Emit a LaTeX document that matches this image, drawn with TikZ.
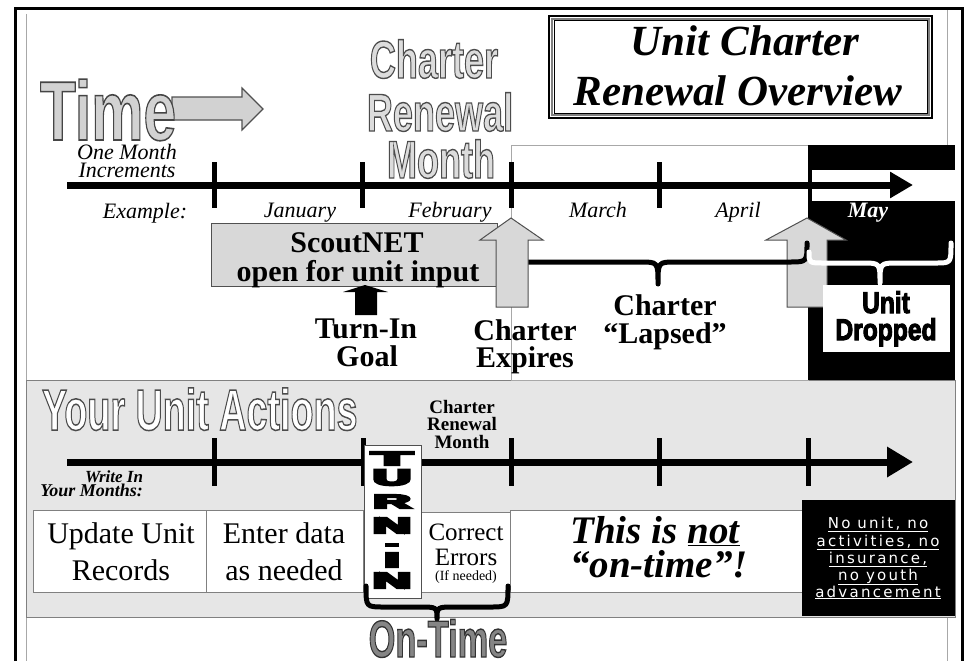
\documentclass[tikz,border=0pt]{standalone}
\usepackage{fontspec}
\usepackage{graphicx}
\setmainfont{Liberation Serif}
\newfontfamily\hv{Liberation Sans}
\newfontfamily\dvs{DejaVu Sans}[LetterSpace=15]
\usetikzlibrary{arrows.meta}
\definecolor{panel}{HTML}{E6E6E6}
\definecolor{lgray}{HTML}{D8D8D8}
\definecolor{dgray}{HTML}{505050}
\definecolor{frameg}{HTML}{A8A8A8}
\definecolor{timefill}{HTML}{D2D2D2}
\definecolor{crmfill}{HTML}{DCDCDC}
\definecolor{otfill}{HTML}{858585}
% outlined text: fill colour, stroke rgb, stroke width, text
\newcommand\olt[4]{{\color{#1}\special{pdf:literal direct 2 Tr #3 w #2 RG}#4\special{pdf:literal direct 0 Tr}}}
\newcommand\fsz[1]{\fontsize{#1}{#1}\selectfont}
\newcommand\heavy[1]{\olt{black}{0 0 0}{1.1}{#1}}
\tikzset{
  every node/.style={inner sep=0pt, outer sep=0pt},
  serifb/.style={font=\fsz{30}\bfseries, anchor=base},
  serifr/.style={font=\fsz{30}, anchor=base},
  monthlbl/.style={font=\fsz{22}\itshape, anchor=base},
  bigout/.style={anchor=base},
  blockarrow/.style={fill=lgray, draw=dgray, line width=1},
  tline/.style={line width=7},
  tick/.style={line width=5},
  bracestyle/.style={line width=5, line cap=round, line join=round},
  whitebox/.style={fill=white, draw=gray, line width=1},
  notxt/.style={font=\dvs\fsz{15}, text=white, anchor=base},
  turnletter/.style={anchor=center},
}
\begin{document}
\begin{tikzpicture}[x=1pt,y=-1pt]
\useasboundingbox (0,0) rectangle (968,661);
\fill[white] (0,0) rectangle (968,661);
% frame
\draw[frameg, line width=0.8] (26,14) -- (26,661);
\draw[frameg, line width=0.8] (947,10) -- (947,661);
\draw[line width=3] (15.5,661) -- (15.5,8.5) -- (962,8.5) -- (962,661);

% ---------- bottom panel ----------
\filldraw[fill=panel, draw=gray, line width=1] (26,380) rectangle (955,617);

% ---------- top section ----------
\draw[frameg, line width=0.8] (511,145) rectangle (808,380);
\fill[black] (808,145) rectangle (955,380);
\fill[white] (812,170) rectangle (955,201);

% title box
\draw[line width=2.5] (549,16) rectangle (932,118);
\draw[gray, line width=1.5] (551.8,18.8) rectangle (929.2,115.2);
\draw[line width=1] (554,21) rectangle (927,113);
\node[font=\fsz{43}\bfseries\itshape, anchor=base] (title1) at (745,56) {Unit Charter};
\node[font=\fsz{43}\bfseries\itshape, anchor=base] (title2) at (738,105) {Renewal Overview};

% Time arrow + text
\filldraw[fill=timefill, draw=dgray, line width=1.2] (172,97) -- (242,97) -- (242,88) -- (263,109) -- (242,130) -- (242,120) -- (172,120) -- cycle;
\node[anchor=base west] (time) at (40,140) {\scalebox{0.7}[1]{\hv\bfseries\fsz{84}\olt{timefill}{0.27 0.27 0.27}{1.6}{Time}}};

% Charter Renewal Month (big)
\node[bigout] (crm1) at (434,78) {\scalebox{0.68}[1]{\hv\bfseries\fsz{53}\olt{crmfill}{0.3 0.3 0.3}{1.4}{Charter}}};
\node[bigout] (crm2) at (440,131) {\scalebox{0.68}[1]{\hv\bfseries\fsz{53}\olt{crmfill}{0.3 0.3 0.3}{1.4}{Renewal}}};
\node[bigout] (crm3) at (441,178) {\scalebox{0.68}[1]{\hv\bfseries\fsz{53}\olt{crmfill}{0.3 0.3 0.3}{1.4}{Month}}};

\node[font=\fsz{22}\itshape, anchor=base] (omi1) at (127,159) {One Month};
\node[font=\fsz{22}\itshape, anchor=base] (omi2) at (127,177) {Increments};

% top timeline
\coordinate (ta) at (67,185);
\coordinate (tb) at (913,185);
\foreach \x in {214,362,511,659} \draw[tick] (\x,162) -- (\x,208);
\draw[tline, -{Triangle[length=23pt,width=25pt]}] (ta) -- (tb);

\node[monthlbl] (mex) at (145,218) {Example:};
\node[monthlbl] (mjan) at (300,217) {January};
\node[monthlbl] (mfeb) at (450,217) {February};
\node[monthlbl] (mmar) at (598,217) {March};
\node[monthlbl] (mapr) at (738,217) {April};
\node[monthlbl, text=white, font=\fsz{22}\bfseries\itshape] (mmay) at (868,217) {May};

% ScoutNET box
\filldraw[fill=lgray, draw=dgray, line width=1] (211,223) rectangle (497,286);
\node[serifb] (scout1) at (357,252) {ScoutNET};
\node[serifb] (scout2) at (358,281) {open for unit input};

% black Turn-In goal arrow
\fill[black] (365,285) -- (388,292) -- (377,292) -- (377,315) -- (355,315) -- (355,292) -- (343,292) -- cycle;
\node[serifb] (goal1) at (366,338) {Turn-In};
\node[serifb] (goal2) at (367,366) {Goal};

% gray arrow 2 (April/May)
\filldraw[blockarrow] (807,218) -- (846,240) -- (827,240) -- (827,307) -- (787,307) -- (787,240) -- (766,240) -- cycle;
% Lapsed brace
\draw[bracestyle, black] (511,243) .. controls (511,262) .. (529,262) -- (640,262) .. controls (658,262) .. (658,284) .. controls (658,262) .. (676,262) -- (789,262) .. controls (807,262) .. (807,243);
% white brace
\draw[bracestyle, white] (809,252) .. controls (809,263) .. (824,263) -- (862,263) .. controls (880,263) .. (880,283) .. controls (880,263) .. (898,263) -- (936,263) .. controls (951,263) .. (951,243);
% gray arrow 1 (Charter expires)
\filldraw[blockarrow] (511,218) -- (543,240) -- (528,240) -- (528,307) -- (496,307) -- (496,240) -- (480,240) -- cycle;

\node[serifb] (exp1) at (525,340) {Charter};
\node[serifb] (exp2) at (525,367) {Expires};
\node[serifb] (lap1) at (665,315) {Charter};
\node[serifb] (lap2) at (665,343) {“Lapsed”};

% Unit dropped
\fill[white] (823,285) rectangle (950,352);
\node[anchor=base] (ud1) at (886,313) {\scalebox{0.82}[1]{\hv\bfseries\fsz{30}\heavy{Unit}}};
\node[anchor=base] (ud2) at (886,340) {\scalebox{0.82}[1]{\hv\bfseries\fsz{30}\heavy{Dropped}}};

% ---------- bottom section ----------
\node[anchor=base west] (yua) at (42,430) {\scalebox{0.65}[1]{\hv\bfseries\fsz{58}\olt{white}{0.3 0.3 0.3}{1.5}{Your Unit Actions}}};
\node[font=\fsz{19}\bfseries, anchor=base] (crms1) at (462,413) {Charter};
\node[font=\fsz{19}\bfseries, anchor=base] (crms2) at (462,430) {Renewal};
\node[font=\fsz{19}\bfseries, anchor=base] (crms3) at (462,448) {Month};

\coordinate (ba) at (67,462);
\coordinate (bb) at (913,462);
\foreach \x in {214,363,511,659,808} \draw[tick] (\x,438) -- (\x,486);
\draw[tline, -{Triangle[length=26pt,width=29pt]}] (ba) -- (bb);

\node[font=\fsz{17}\bfseries\itshape, anchor=base east] (wi1) at (143,482) {Write In};
\node[font=\fsz{18}\bfseries\itshape, anchor=base east] (wi2) at (143,496) {Your Months:};

% action boxes
\draw[whitebox] (33,510) rectangle (206,592);
\draw[whitebox] (206,510) rectangle (363,592);
\draw[whitebox] (421,512) rectangle (510,592);
\draw[whitebox] (510,510) rectangle (802,592);
\node[serifr] (b1a) at (121,543) {Update Unit};
\node[serifr] (b1b) at (121,580) {Records};
\node[serifr] (b2a) at (284,543) {Enter data};
\node[serifr] (b2b) at (284,580) {as needed};
\node[font=\fsz{25}, anchor=base] (c1) at (466,540) {Correct};
\node[font=\fsz{25}, anchor=base] (c2) at (466,565) {Errors};
\node[font=\fsz{14}, anchor=base] (c3) at (466,580) {(If needed)};
\node[font=\fsz{39}\bfseries\itshape, anchor=base] (n1) at (655,543) {This is \underline{not}};
\node[font=\fsz{39}\bfseries\itshape, anchor=base] (n2) at (659,577) {“on-time”!};

% black consequences box
\fill[black] (802,500) rectangle (955,616);
\node[notxt] (no1) at (878,528) {\underline{No unit, no}};
\node[notxt] (no2) at (878,546) {\underline{activities, no}};
\node[notxt] (no3) at (878,563) {\underline{insurance,}};
\node[notxt] (no4) at (878,580) {\underline{no youth}};
\node[notxt] (no5) at (878,597) {\underline{advancement}};

% TURN-IN vertical box
\filldraw[fill=white, draw=dgray, line width=1] (364,445) rectangle (421,598);
\node[turnletter] (tT) at (392,458.5) {\resizebox{40pt}{13pt}{\hv\bfseries\heavy{T}}};
\node[turnletter] (tU) at (392,477.5) {\resizebox{38pt}{15pt}{\hv\bfseries\heavy{U}}};
\node[turnletter] (tR) at (392,501.5) {\resizebox{37pt}{13pt}{\hv\bfseries\heavy{R}}};
\node[turnletter] (tN) at (392,525.5) {\resizebox{38pt}{15pt}{\hv\bfseries\heavy{N}}};
\node[turnletter] (tD) at (392,545) {\rule{14pt}{4pt}};
\node[turnletter] (tI) at (392,560) {\resizebox{15pt}{14pt}{\hv\bfseries\heavy{I}}};
\node[turnletter] (tN2) at (392,580.5) {\resizebox{38pt}{15pt}{\hv\bfseries\heavy{N}}};

% On-time brace
\draw[bracestyle, black] (366,586) .. controls (366,607) .. (384,607) -- (419,607) .. controls (437,607) .. (437,619) .. controls (437,607) .. (455,607) -- (490,607) .. controls (508,607) .. (508,586);
\node[anchor=base] (ontime) at (438,657) {\scalebox{0.66}[1]{\hv\bfseries\fsz{52}\olt{otfill}{0.2 0.2 0.2}{1.4}{On-Time}}};
\end{tikzpicture}
\end{document}
